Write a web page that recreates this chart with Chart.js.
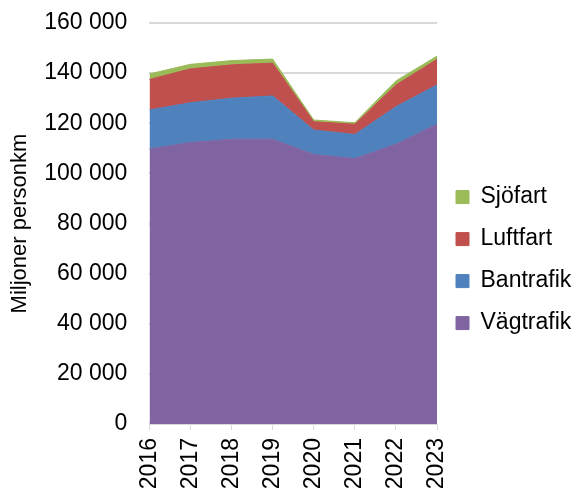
<!DOCTYPE html>
<html lang="sv">
<head>
<meta charset="UTF-8">
<title>Persontransporter</title>
<script src="https://cdn.jsdelivr.net/npm/chart.js"></script>
<style>
  html, body { margin: 0; padding: 0; background: #fff; }
  #wrap { width: 576px; height: 488px; position: relative; overflow: hidden; }
</style>
</head>
<body>
<div id="wrap"><canvas id="grafik" width="576" height="488"></canvas></div>
<script>
// år och värden (miljoner personkm)
const ar = ["2016", "2017", "2018", "2019", "2020", "2021", "2022", "2023"];
const vagtrafik = [109700, 112300, 113600, 113600, 107500, 105900, 111600, 119600];
const bantrafik = [15600, 15900, 16400, 17300, 9800, 9600, 15000, 15700];
const luftfart = [12200, 13500, 13300, 13100, 3300, 4100, 8700, 10200];
const sjofart = [2200, 1800, 1700, 1600, 700, 600, 1600, 1300];
const yTicks = [0, 20000, 40000, 60000, 80000, 100000, 120000, 140000, 160000];

const font = "'Liberation Sans', Arial, sans-serif";
Chart.defaults.font.family = font;
Chart.defaults.color = "#000";

function tusen(v) {
  return String(v).replace(/\B(?=(\d{3})+(?!\d))/g, " ");
}

function serie(namn, data, farg, fill) {
  return {
    label: namn,
    data: data,
    backgroundColor: farg,
    borderColor: farg,
    borderWidth: 1,
    pointRadius: 0,
    fill: fill,
    tension: 0
  };
}

// legenden ska börja direkt vid plotytans högra kant
const legendBredd = {
  id: "legendBredd",
  afterInit(chart) {
    const fit = chart.legend.fit;
    chart.legend.fit = function () {
      fit.call(this);
      this.width = 139;
    };
  }
};

function rita() {
  new Chart(document.getElementById("grafik"), {
    type: "line",
    data: {
      labels: ar,
      datasets: [
        serie("Vägtrafik", vagtrafik, "#8064A2", "origin"),
        serie("Bantrafik", bantrafik, "#4F81BD", "-1"),
        serie("Luftfart", luftfart, "#C0504D", "-1"),
        serie("Sjöfart", sjofart, "#9BBB59", "-1")
      ]
    },
    plugins: [legendBredd],
    options: {
      responsive: false,
      animation: false,
      // årtalen får klippas i nederkanten, som i förlagan
      layout: { padding: { left: 7.2, top: 23, right: 0, bottom: -9.2 } },
      plugins: {
        tooltip: { enabled: false },
        legend: {
          position: "right",
          reverse: true,
          labels: {
            boxWidth: 13,
            boxHeight: 13,
            padding: 19,
            font: { size: 23 }
          }
        }
      },
      scales: {
        x: {
          offset: false,
          grid: { drawOnChartArea: false, drawTicks: true, tickLength: 6, color: "#d9d9d9" },
          border: { color: "#d9d9d9" },
          ticks: { minRotation: 90, maxRotation: 90, autoSkip: false, font: { size: 23 }, padding: 8 }
        },
        y: {
          stacked: true,
          min: 0,
          max: 160000,
          afterBuildTicks: axis => { axis.ticks = yTicks.map(v => ({ value: v })); },
          grid: { color: "#d9d9d9", lineWidth: 2, drawTicks: true, tickLength: 22, tickColor: "rgba(0,0,0,0)" },
          border: { display: false },
          title: { display: true, text: "Miljoner personkm", font: { size: 22 }, padding: { top: 0, bottom: 13.7 } },
          ticks: { font: { size: 23 }, padding: 0, callback: v => tusen(v) }
        }
      }
    }
  });
}

document.fonts.load("23px 'Liberation Sans'").then(rita, rita);
</script>
</body>
</html>
